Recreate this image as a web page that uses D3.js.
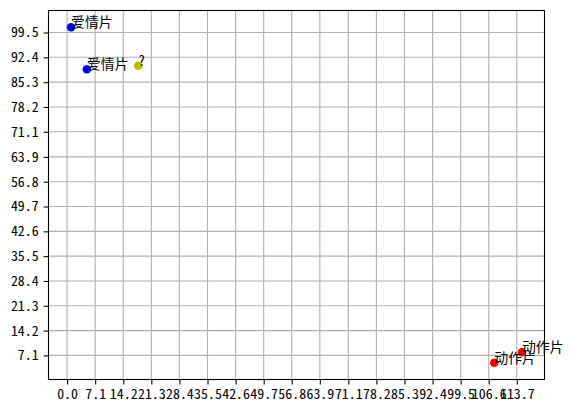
<!DOCTYPE html>
<html><head><meta charset="utf-8">
<script src="https://cdn.jsdelivr.net/npm/d3@7"></script>
<style>
html,body{margin:0;padding:0;background:#fff;}
text{font-family:"Noto Sans CJK SC","Noto Sans CJK JP",sans-serif;font-feature-settings:"hwid" 1;}
</style></head>
<body><svg id="c" width="573" height="411"></svg>
<script>
const xs = [1, 5, 108, 115];
const ys = [101, 89, 5, 8];
const labels = ["爱情片", "爱情片", "动作片", "动作片"];
const colors = ["#0000ff", "#0000ff", "#ff0000", "#ff0000"];
const testX = [18];
const testY = [90];
const testLabel = ["?"];
const xTicks = ["0.0","7.1","14.2","21.3","28.4","35.5","42.6","49.7","56.8","63.9","71.1","78.2","85.3","92.4","99.5","106.6","113.7"];
const yTicks = ["7.1","14.2","21.3","28.4","35.5","42.6","49.7","56.8","63.9","71.1","78.2","85.3","92.4","99.5"];

const svg = d3.select("#c");
const L = 48.5, R = 544.5, T = 10.5, B = 379.5;
const x = d3.scaleLinear().domain([-4.7, 120.7]).range([L, R]);
const y = d3.scaleLinear().domain([0.2, 105.8]).range([B, T]);
const fs = 13.9;

// grid
const g = svg.append("g");
g.selectAll("line.vx").data(xTicks).join("line")
  .attr("x1", d => x(+d)).attr("x2", d => x(+d)).attr("y1", T).attr("y2", B)
  .attr("stroke", "#b0b0b0").attr("stroke-width", 1.1);
g.selectAll("line.hy").data(yTicks).join("line")
  .attr("y1", d => y(+d)).attr("y2", d => y(+d)).attr("x1", L).attr("x2", R)
  .attr("stroke", "#b0b0b0").attr("stroke-width", 1.1);

// axes
const xAxis = d3.axisBottom(x).tickValues(xTicks.map(Number)).tickFormat((d,i) => xTicks[i]).tickSize(4.9).tickPadding(4.9);
const yAxis = d3.axisLeft(y).tickValues(yTicks.map(Number)).tickFormat((d,i) => yTicks[i]).tickSize(4.9).tickPadding(4.9);
const gx = svg.append("g").attr("transform", `translate(0,${B})`).call(xAxis);
const gy = svg.append("g").attr("transform", `translate(${L},0)`).call(yAxis);
[gx, gy].forEach(a => {
  a.select(".domain").remove();
  a.selectAll(".tick line").attr("stroke", "#000").attr("stroke-width", 1.1);
  a.selectAll(".tick text").attr("font-size", fs).attr("fill", "#000").attr("font-family", null);
});

// frame
svg.append("rect").attr("x", L).attr("y", T).attr("width", R - L).attr("height", B - T)
  .attr("fill", "none").attr("stroke", "#000").attr("stroke-width", 1.1);

// points
svg.selectAll("circle.p").data(xs).join("circle")
  .attr("cx", (d) => x(d)).attr("cy", (d,i) => y(ys[i])).attr("r", 4.3)
  .attr("fill", (d,i) => colors[i]);
svg.selectAll("circle.t").data(testX).join("circle")
  .attr("cx", d => x(d)).attr("cy", (d,i) => y(testY[i])).attr("r", 4.3)
  .attr("fill", "#bfbf00");

// labels
svg.selectAll("text.lab").data(xs).join("text")
  .attr("x", d => x(d)).attr("y", (d,i) => y(ys[i]))
  .attr("font-size", fs).attr("fill", "#000").text((d,i) => labels[i]);
svg.selectAll("text.tl").data(testX).join("text")
  .attr("x", d => x(d)).attr("y", (d,i) => y(testY[i]))
  .attr("font-size", fs).attr("fill", "#000").text((d,i) => testLabel[i]);
</script></body></html>
